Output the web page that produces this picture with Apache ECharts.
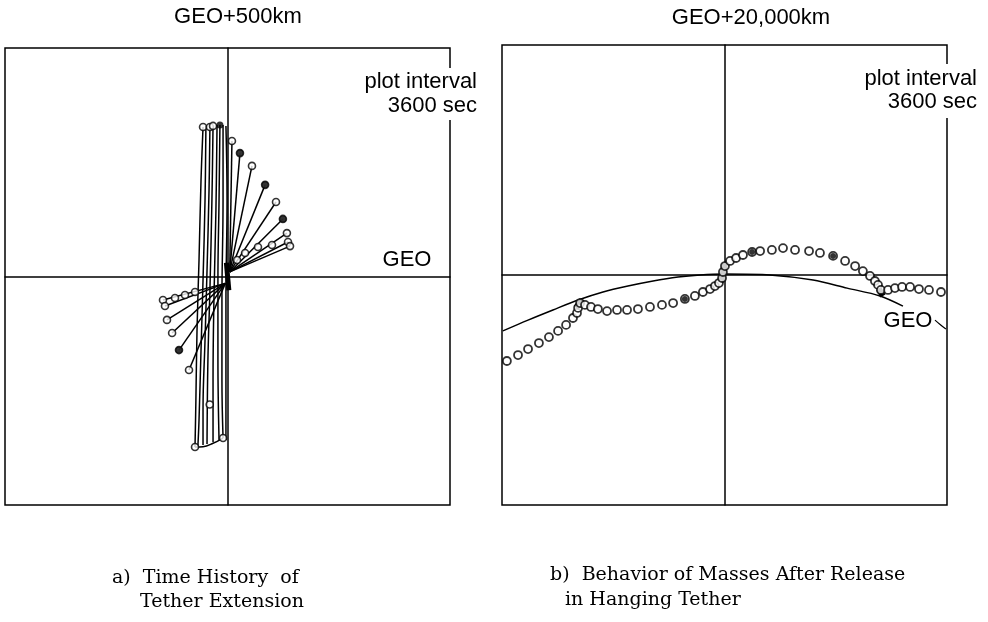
<!DOCTYPE html>
<html>
<head>
<meta charset="utf-8">
<title>Tether extension and mass release</title>
<script src="https://cdn.jsdelivr.net/npm/echarts@6/dist/echarts.min.js"></script>
<style>
  html, body { margin: 0; padding: 0; background: #fff; }
  #chart { width: 988px; height: 622px; }
</style>
</head>
<body>
<div id="chart"></div>
<script>
// a) GEO+500km : tether bundle, each line read top -> bottom
const bundle1 = [[-11.0, 65.4], [-11.9, 42.2], [-12.8, 7.2], [-13.7, -23.4], [-14.2, -54.0], [-14.6, -74.6]];
const bundle2 = [[-9.7, 65.9], [-10.1, 33.5], [-11.0, -1.5], [-11.9, -32.2], [-12.8, -62.8], [-13.3, -74.2]];
const bundle3 = [[-7.9, 65.4], [-8.3, 37.9], [-9.2, 2.8], [-10.1, -27.8], [-11.0, -58.4], [-11.0, -73.7]];
const bundle4 = [[-6.5, 65.9], [-7.0, 33.5], [-7.9, -5.9], [-8.8, -36.5], [-9.2, -73.3]];
const bundle5 = [[-4.7, 66.3], [-5.2, 29.1], [-6.1, -10.3], [-6.5, -45.3], [-6.5, -72.4]];
const bundle6 = [[-3.4, 66.3], [-3.8, 33.5], [-4.3, -1.5], [-4.3, -36.5], [-3.8, -71.6]];
const bundle7 = [[-2.0, 66.3], [-2.0, 33.5], [-2.5, -10.3], [-2.5, -45.3], [-2.0, -70.7]];
const bundle8 = [[-0.7, 65.9], [-0.2, 33.5], [-0.7, -10.3], [-0.7, -71.6]];
const bundleBottom = [[-14.6, -74.6], [-11.0, -74.5], [-6.5, -73.0], [-2.0, -70.7]];
const bundleMarks = [[-11.0, 65.4], [-7.9, 65.4], [-6.5, 65.9], [-14.6, -74.6], [-2.0, -70.7], [-8.0, -56.0]];
const bundleFilled = [[-3.4, 66.3]];

// fan of tether positions swinging out from the centre
const fanUpperOrigin = [1, 2];
const fanUpperEnds = [[2.0, 59.3], [5.6, 54.0], [11.0, 48.4], [16.9, 40.1], [21.8, 32.6], [24.9, 25.2], [26.7, 19.0], [27.2, 15.1], [28.1, 13.3]];
const fanUpperMid = [[7.9, 10.3], [13.7, 12.9], [20.0, 13.8], [4.3, 7.2]];
const fanLowerOrigin = [-1, -3];
const fanLowerEnds = [[-29.0, -10.3], [-28.1, -12.9], [-27.2, -19.0], [-24.9, -24.7], [-21.8, -32.2], [-17.3, -40.9]];
const fanLowerMid = [[-23.6, -9.4], [-19.1, -8.1], [-14.6, -6.8]];
const fanFilled = [[5.6, 54.0], [24.9, 25.2], [-21.8, -32.2], [16.9, 40.1]];
const centreBlob = [[-0.5, 6], [0.6, -6]];

// b) GEO+20,000km : GEO line and released mass positions
const geoCurve = [[-99.6, -24.3], [-88.3, -19.6], [-77.1, -15.2], [-65.8, -10.9], [-54.6, -7.4], [-43.4, -4.8],
  [-32.1, -2.6], [-20.9, -0.9], [-11.0, 0], [0, 0.4], [20.4, 0], [39.8, -2.2], [55.1, -5.7], [69.9, -9.1], [80.2, -13.5]];
const massPath = [[-97.8, -37.4], [-92.8, -34.8], [-88.3, -32.2], [-83.4, -29.6], [-78.9, -27.0], [-74.8, -24.3],
  [-71.2, -21.7], [-68.1, -18.7], [-66.3, -16.5], [-65.8, -14.3], [-64.9, -12.2], [-62.7, -13.0], [-60.0, -13.9],
  [-56.9, -14.8], [-52.8, -15.7], [-48.3, -15.2], [-43.8, -15.2], [-38.9, -14.8], [-33.5, -13.9], [-28.1, -13.0],
  [-23.1, -12.2], [-17.8, -10.4], [-13.3, -9.1], [-9.7, -7.4], [-6.5, -6.1], [-4.3, -4.8], [-2.5, -3.5], [-1.1, -1.3],
  [-0.7, 1.3], [0.2, 3.9], [2.5, 6.1], [5.2, 7.4], [8.3, 8.7], [12.4, 10.0], [16.0, 10.4], [21.3, 10.9], [26.3, 11.7],
  [31.7, 10.9], [38.0, 10.4], [42.9, 9.6], [48.8, 8.3], [54.2, 6.1], [58.7, 3.9], [62.2, 1.7], [65.4, -0.4], [67.6, -2.6],
  [69.0, -4.3], [70.3, -6.5], [73.5, -6.5], [76.6, -5.7], [79.8, -5.2], [83.4, -5.2], [87.4, -6.1], [91.9, -6.5], [97.3, -7.4]];
const massFilled = [[12.4, 10.0], [48.8, 8.3], [-17.8, -10.4]];
const massBlobs = [[[-66.7, -14.3], [-64.0, -10.9]], [[-1.6, -3.0], [0.2, 4.8]], [[69.4, -6.1], [71.2, -9.1]]];
const geoLeader = [[94.6, -19.6], [96.9, -21.5], [99.5, -23.5]];

const chart = echarts.init(document.getElementById('chart'));

const ink = '#000';
const hollow = { color: '#fff', borderColor: ink, borderWidth: 1.6 };

function axis(idx) {
  return {
    type: 'value', gridIndex: idx, min: -100, max: 100,
    axisLine: { show: true, onZero: true, lineStyle: { color: ink, width: 1.5 } },
    axisTick: { show: false }, axisLabel: { show: false }, splitLine: { show: false }
  };
}

const bundles = [bundle1, bundle2, bundle3, bundle4, bundle5, bundle6, bundle7, bundle8, bundleBottom];

const series = [];
bundles.forEach(b => series.push({
  type: 'line', xAxisIndex: 0, yAxisIndex: 0, data: b, smooth: 0.4, symbol: 'none',
  lineStyle: { color: ink, width: 1.5 }, z: 3
}));
series.push({
  type: 'lines', coordinateSystem: 'cartesian2d', xAxisIndex: 0, yAxisIndex: 0,
  data: fanUpperEnds.map(e => ({ coords: [fanUpperOrigin, e] }))
    .concat(fanLowerEnds.map(e => ({ coords: [fanLowerOrigin, e] }))),
  lineStyle: { color: ink, width: 1.5, opacity: 1 }, z: 3
});
series.push({
  type: 'lines', coordinateSystem: 'cartesian2d', xAxisIndex: 0, yAxisIndex: 0,
  data: [{ coords: centreBlob }], lineStyle: { color: ink, width: 5, opacity: 1 }, z: 4
});
series.push({
  type: 'scatter', xAxisIndex: 0, yAxisIndex: 0, symbolSize: 7,
  data: fanUpperEnds.concat(fanLowerEnds, fanUpperMid, fanLowerMid, bundleMarks),
  itemStyle: hollow, z: 5
});
series.push({
  type: 'scatter', xAxisIndex: 0, yAxisIndex: 0, symbolSize: 7,
  data: fanFilled.concat(bundleFilled), itemStyle: { color: ink }, z: 6
});

series.push({
  type: 'line', xAxisIndex: 1, yAxisIndex: 1, data: geoCurve, smooth: 0.3, symbol: 'none',
  lineStyle: { color: ink, width: 1.5 }, z: 3
});
series.push({
  type: 'line', xAxisIndex: 1, yAxisIndex: 1, data: geoLeader, smooth: 0.5, symbol: 'none',
  lineStyle: { color: ink, width: 1.2 }, z: 3
});
series.push({
  type: 'lines', coordinateSystem: 'cartesian2d', xAxisIndex: 1, yAxisIndex: 1,
  data: massBlobs.map(c => ({ coords: c })), lineStyle: { color: ink, width: 6, opacity: 1 }, z: 4
});
series.push({
  type: 'scatter', xAxisIndex: 1, yAxisIndex: 1, symbolSize: 8, data: massPath,
  itemStyle: { color: '#fff', borderColor: ink, borderWidth: 1.8 }, z: 5
});
series.push({
  type: 'scatter', xAxisIndex: 1, yAxisIndex: 1, symbolSize: 6, data: massFilled,
  itemStyle: { color: ink }, z: 6
});

const sans = '"Liberation Sans", Arial, sans-serif';
const serif = '"DejaVu Serif", "Liberation Serif", serif';
function label(text, x, y, size, align, family) {
  return {
    type: 'text', x: x, y: y, z: 101,
    style: { text: text, fill: ink, font: size + 'px ' + (family || sans), textAlign: align || 'center', textVerticalAlign: 'middle' }
  };
}

chart.setOption({
  backgroundColor: '#fff',
  animation: false,
  grid: [
    { left: 5, top: 48, width: 445, height: 457, show: true, borderColor: ink, borderWidth: 1.5, backgroundColor: 'transparent' },
    { left: 502, top: 45, width: 445, height: 460, show: true, borderColor: ink, borderWidth: 1.5, backgroundColor: 'transparent' }
  ],
  xAxis: [axis(0), axis(1)],
  yAxis: [axis(0), axis(1)],
  series: series,
  graphic: [
    { type: 'rect', shape: { x: 360, y: 68, width: 122, height: 52 }, style: { fill: '#fff' }, z: 100 },
    { type: 'rect', shape: { x: 860, y: 64, width: 128, height: 54 }, style: { fill: '#fff' }, z: 100 },
    label('GEO+500km', 238, 17, 22),
    label('GEO+20,000km', 751, 18, 22),
    label('plot interval', 477, 82, 22, 'right'),
    label('3600 sec', 477, 106, 22, 'right'),
    label('plot interval', 977, 79, 22, 'right'),
    label('3600 sec', 977, 102, 22, 'right'),
    label('GEO', 407, 260, 22),
    label('GEO', 908, 321, 22),
    label('a)  Time History  of', 112, 578, 19, 'left', serif),
    label('Tether Extension', 140, 602, 19, 'left', serif),
    label('b)  Behavior of Masses After Release', 550, 575, 19, 'left', serif),
    label('in Hanging Tether', 565, 600, 19, 'left', serif)
  ]
});
</script>
</body>
</html>
